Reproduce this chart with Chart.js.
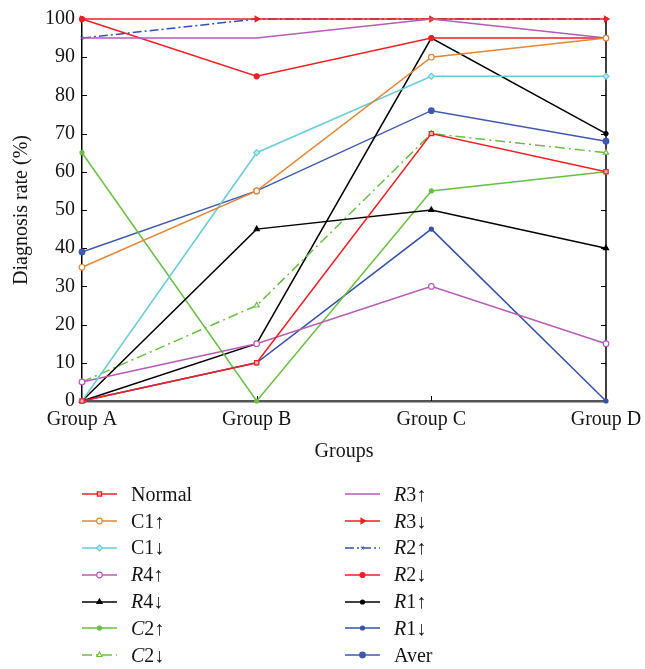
<!DOCTYPE html>
<html>
<head>
<meta charset="utf-8">
<script src="https://cdn.jsdelivr.net/npm/chart.js@4.4.1/dist/chart.umd.min.js"></script>
<style>
  body { margin: 0; background: #fff; font-family: 'Liberation Serif', 'Times New Roman', serif; }
  #wrap { position: relative; width: 645px; height: 669px; }
  #chartBox { position: absolute; left: 0; top: 0; width: 645px; height: 470px; }
  .legend-col { position: absolute; top: 481px; }
  .legend-item { height: 26.8px; display: flex; align-items: center; font-size: 20px; color: #151515; white-space: nowrap; }
  .legend-item canvas { margin-right: 11px; }
</style>
</head>
<body>
<div id="wrap">
  <div id="chartBox"><canvas id="rateChart"></canvas></div>
  <div class="legend-col" id="legendLeft" style="left:80px"></div>
  <div class="legend-col" id="legendRight" style="left:343px"></div>
</div>
<script>
const groups = ['Group A', 'Group B', 'Group C', 'Group D'];

const normal = [0, 10, 70, 60];
const c1Up = [35, 55, 90, 95];
const c1Down = [0, 65, 85, 85];
const r4Up = [5, 15, 30, 15];
const r4Down = [0, 45, 50, 40];
const c2Up = [65, 0, 55, 60];
const c2Down = [5, 25, 70, 65];
const r3Up = [95, 95, 100, 95];
const r3Down = [100, 100, 100, 100];
const r2Up = [95, 100, 100, 100];
const r2Down = [100, 85, 95, 95];
const r1Up = [0, 15, 95, 70];
const r1Down = [0, 10, 45, 0];
const aver = [39, 55, 76, 68];

const seriesLabels = ['Normal', 'C1↑', 'C1↓', 'R4↑', 'R4↓', 'C2↑', 'C2↓', 'R3↑', 'R3↓', 'R2↑', 'R2↓', 'R1↑', 'R1↓', 'Aver'];
const italicFirst = [false, false, false, true, true, true, true, true, true, true, true, true, true, false];

const Y_MIN = 0;
const Y_MAX = 100;
const Y_STEP = 10;

const FONT = "'Liberation Serif', 'Times New Roman', serif";
const RED = '#ee1f25';
const ORANGE = '#e0873a';
const CYAN = '#6ccbd8';
const MAGENTA = '#b65bb5';
const GREEN = '#6cbd45';
const BLUE = '#3553a5';

function series(label, data, color, opts = {}) {
  return {
    label,
    data,
    borderColor: color,
    backgroundColor: color,
    pointBackgroundColor: opts.fill || color,
    pointBorderColor: color,
    pointStyle: opts.style || 'circle',
    pointRadius: opts.radius ?? 2,
    pointBorderWidth: 1.2,
    pointRotation: opts.rotation || 0,
    borderWidth: 1.5,
    borderDash: opts.dash || [],
    tension: 0,
    fill: false,
    clip: false,
  };
}

const datasets = [
  series(seriesLabels[0], normal, RED, { style: 'rect', radius: 3, fill: '#f7b0b0' }),
  series(seriesLabels[1], c1Up, ORANGE, { radius: 2.8, fill: '#fff' }),
  series(seriesLabels[2], c1Down, CYAN, { style: 'rectRot', radius: 3, fill: '#bde9ef' }),
  series(seriesLabels[3], r4Up, MAGENTA, { radius: 2.8, fill: '#fff' }),
  series(seriesLabels[4], r4Down, '#000000', { style: 'triangle', radius: 3 }),
  series(seriesLabels[5], c2Up, GREEN, { radius: 2 }),
  series(seriesLabels[6], c2Down, GREEN, { style: 'triangle', radius: 3, fill: '#fff', dash: [10, 4, 2, 4] }),
  series(seriesLabels[7], r3Up, MAGENTA, { radius: 0 }),
  series(seriesLabels[8], r3Down, RED, { style: 'triangle', radius: 3, rotation: 90 }),
  series(seriesLabels[9], r2Up, BLUE, { style: 'crossRot', radius: 2, dash: [9, 3, 2, 3] }),
  series(seriesLabels[10], r2Down, RED, { radius: 2.5 }),
  series(seriesLabels[11], r1Up, '#000000', { radius: 2 }),
  series(seriesLabels[12], r1Down, BLUE, { radius: 2 }),
  series(seriesLabels[13], aver, '#3f5aab', { radius: 2.8 }),
];

// inward tick marks and the right-hand frame line
const frameTicks = {
  id: 'frameTicks',
  beforeDatasetsDraw(chart) {
    const { ctx, chartArea: { left, right, top, bottom }, scales: { x, y } } = chart;
    ctx.save();
    ctx.strokeStyle = '#000';
    ctx.lineWidth = 1.5;
    ctx.beginPath();
    ctx.moveTo(right, top);
    ctx.lineTo(right, bottom);
    ctx.stroke();

    ctx.lineWidth = 1;
    for (let v = Y_MIN + Y_STEP; v < Y_MAX; v += Y_STEP) {
      const py = Math.round(y.getPixelForValue(v)) + 0.5;
      ctx.beginPath();
      ctx.moveTo(left, py);
      ctx.lineTo(left + 5, py);
      ctx.moveTo(right - 5, py);
      ctx.lineTo(right, py);
      ctx.stroke();
    }
    for (let i = 1; i < groups.length - 1; i++) {
      const px = Math.round(x.getPixelForValue(i)) + 0.5;
      ctx.beginPath();
      ctx.moveTo(px, bottom);
      ctx.lineTo(px, bottom - 5);
      ctx.stroke();
    }
    ctx.restore();
  },
};

const chart = new Chart(document.getElementById('rateChart').getContext('2d'), {
  type: 'line',
  data: { labels: groups, datasets },
  plugins: [frameTicks],
  options: {
    responsive: true,
    maintainAspectRatio: false,
    animation: false,
    layout: { autoPadding: false, padding: { top: 17, right: 39, left: 0, bottom: 0 } },
    plugins: {
      legend: { display: false },
      tooltip: { enabled: false },
    },
    scales: {
      x: {
        offset: false,
        grid: { drawOnChartArea: false, drawTicks: false },
        border: { color: '#555555', width: 2.5 },
        ticks: { color: '#151515', font: { family: FONT, size: 20 }, padding: 7, maxRotation: 0 },
        title: { display: true, text: 'Groups', color: '#151515', font: { family: FONT, size: 20 }, padding: { top: 4, bottom: 6 } },
        afterFit: (scale) => {
          scale.height = 69;
          scale.paddingRight = 0;
          scale.paddingLeft = 0;
        },
      },
      y: {
        min: Y_MIN,
        max: Y_MAX,
        grid: { drawOnChartArea: false, drawTicks: false },
        border: { color: '#000000', width: 1.5 },
        ticks: { stepSize: Y_STEP, color: '#151515', font: { family: FONT, size: 20 }, padding: 7 },
        title: { display: true, text: 'Diagnosis rate (%)', color: '#151515', font: { family: FONT, size: 20 }, padding: { top: 10, bottom: 4 } },
        afterFit: (scale) => { scale.width = 82; },
      },
    },
  },
});

function buildLegend() {
  const left = document.getElementById('legendLeft');
  const right = document.getElementById('legendRight');
  chart.data.datasets.forEach((ds, i) => {
    const item = document.createElement('div');
    item.className = 'legend-item';
    const sample = document.createElement('canvas');
    sample.width = 40;
    sample.height = 26;
    const ctx = sample.getContext('2d');
    ctx.strokeStyle = ds.borderColor;
    ctx.lineWidth = ds.borderWidth;
    ctx.setLineDash(ds.borderDash || []);
    ctx.beginPath();
    ctx.moveTo(2, 13);
    ctx.lineTo(37, 13);
    ctx.stroke();
    ctx.setLineDash([]);
    if (ds.pointRadius > 0) {
      ctx.fillStyle = ds.pointBackgroundColor;
      ctx.strokeStyle = ds.pointBorderColor;
      ctx.lineWidth = ds.pointBorderWidth;
      Chart.helpers.drawPoint(ctx, {
        pointStyle: ds.pointStyle,
        rotation: ds.pointRotation,
        radius: ds.pointRadius,
        borderWidth: ds.pointBorderWidth,
      }, 19.5, 13);
    }
    const text = document.createElement('span');
    const label = seriesLabels[i];
    if (italicFirst[i]) {
      const it = document.createElement('i');
      it.textContent = label[0];
      text.appendChild(it);
      text.appendChild(document.createTextNode(label.slice(1)));
    } else {
      text.textContent = label;
    }
    item.appendChild(sample);
    item.appendChild(text);
    (i < 7 ? left : right).appendChild(item);
  });
}

buildLegend();
</script>
</body>
</html>
